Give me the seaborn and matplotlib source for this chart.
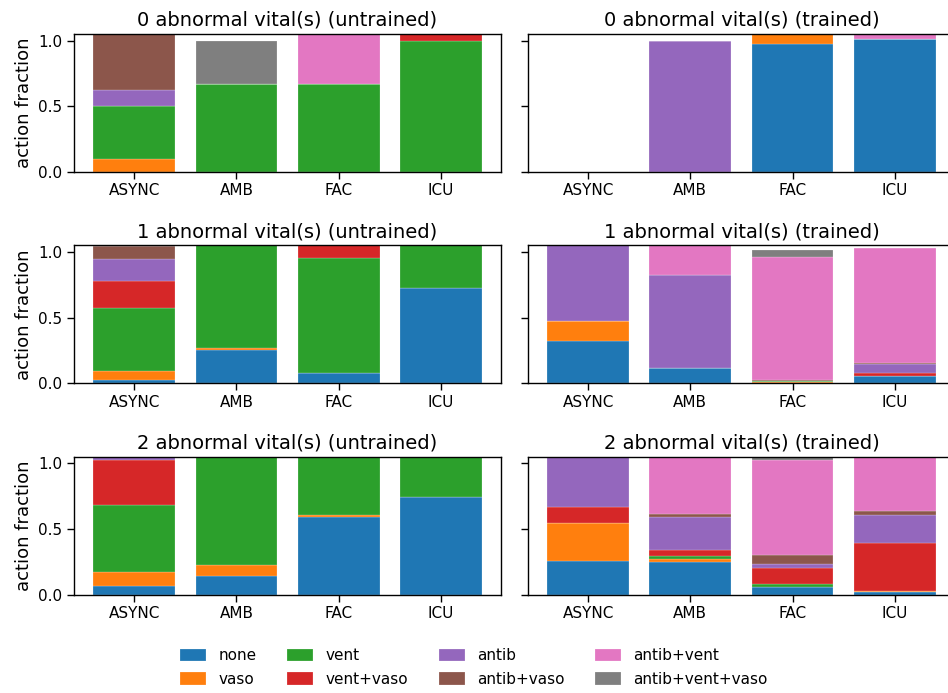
import pandas as pd
import seaborn as sns
import matplotlib.pyplot as plt
from matplotlib.patches import Patch

settings = ['ASYNC', 'AMB', 'FAC', 'ICU']
actions = ['none', 'vaso', 'vent', 'vent+vaso', 'antib', 'antib+vaso', 'antib+vent', 'antib+vent+vaso']

# rows = actions, columns = settings (ASYNC, AMB, FAC, ICU)
untrained_0 = [
    [0.0, 0.0, 0.0, 0.0],
    [0.10, 0.0, 0.0, 0.0],
    [0.40, 0.667, 0.667, 1.0],
    [0.0, 0.0, 0.0, 0.06],
    [0.12, 0.0, 0.0, 0.0],
    [0.45, 0.0, 0.0, 0.0],
    [0.0, 0.0, 0.40, 0.0],
    [0.0, 0.333, 0.0, 0.0],
]
trained_0 = [
    [0.0, 0.0, 0.972, 1.008],
    [0.0, 0.0, 0.10, 0.0],
    [0.0, 0.0, 0.0, 0.0],
    [0.0, 0.0, 0.0, 0.0],
    [0.0, 1.0, 0.0, 0.0],
    [0.0, 0.0, 0.0, 0.0],
    [0.0, 0.0, 0.0, 0.06],
    [0.0, 0.0, 0.0, 0.0],
]
untrained_1 = [
    [0.023, 0.254, 0.079, 0.723],
    [0.073, 0.013, 0.0, 0.0],
    [0.478, 0.80, 0.878, 0.35],
    [0.205, 0.0, 0.10, 0.0],
    [0.168, 0.0, 0.0, 0.0],
    [0.10, 0.0, 0.0, 0.0],
    [0.0, 0.0, 0.0, 0.0],
    [0.0, 0.0, 0.0, 0.0],
]
trained_1 = [
    [0.322, 0.114, 0.003, 0.058],
    [0.15, 0.0, 0.005, 0.0],
    [0.0, 0.0, 0.008, 0.0],
    [0.0, 0.0, 0.0, 0.018],
    [0.60, 0.708, 0.0, 0.07],
    [0.0, 0.0, 0.005, 0.008],
    [0.0, 0.25, 0.943, 0.876],
    [0.0, 0.0, 0.054, 0.0],
]
untrained_2 = [
    [0.069, 0.143, 0.592, 0.747],
    [0.104, 0.084, 0.015, 0.0],
    [0.513, 0.85, 0.45, 0.35],
    [0.34, 0.0, 0.0, 0.0],
    [0.04, 0.0, 0.0, 0.0],
    [0.0, 0.0, 0.0, 0.0],
    [0.0, 0.0, 0.0, 0.0],
    [0.0, 0.0, 0.0, 0.0],
]
trained_2 = [
    [0.258, 0.247, 0.056, 0.02],
    [0.29, 0.023, 0.0, 0.01],
    [0.0, 0.026, 0.023, 0.0],
    [0.123, 0.046, 0.122, 0.367],
    [0.45, 0.247, 0.033, 0.213],
    [0.0, 0.028, 0.069, 0.03],
    [0.0, 0.50, 0.723, 0.45],
    [0.0, 0.0, 0.05, 0.0],
]

panels = [
    (untrained_0, '0 abnormal vital(s) (untrained)'),
    (trained_0, '0 abnormal vital(s) (trained)'),
    (untrained_1, '1 abnormal vital(s) (untrained)'),
    (trained_1, '1 abnormal vital(s) (trained)'),
    (untrained_2, '2 abnormal vital(s) (untrained)'),
    (trained_2, '2 abnormal vital(s) (trained)'),
]

sns.set_style('ticks')
sns.set_context('paper')
plt.rcParams['font.family'] = ['DejaVu Sans']
plt.rcParams['xtick.labelsize'] = 11
plt.rcParams['ytick.labelsize'] = 11
for k in ['text.color', 'axes.labelcolor', 'xtick.color', 'ytick.color', 'axes.edgecolor']:
    plt.rcParams[k] = 'black'

colors = sns.color_palette('tab10')[:8]
palette = dict(zip(actions, colors))

fig, axes = plt.subplots(3, 2, figsize=(9.48, 6.93), dpi=100, sharey=True)
fig.subplots_adjust(left=0.078, right=1.0074, top=0.951, bottom=0.142, wspace=0.0625, hspace=0.536)

for ax, (vals, title) in zip(axes.flat, panels):
    rows = []
    for a, row in zip(actions, vals):
        for s, v in zip(settings, row):
            rows.append({'setting': s, 'action': a, 'fraction': v})
    df = pd.DataFrame(rows)
    # histplot stacks the last hue level at the bottom
    sns.histplot(data=df, x='setting', hue='action', weights='fraction',
                 hue_order=actions[::-1], palette=palette, multiple='stack',
                 discrete=True, shrink=0.8, alpha=1, edgecolor=(1, 1, 1, 0.5),
                 linewidth=0.3, legend=False, ax=ax)
    ax.set_title(title, fontsize=14)
    ax.set_xlabel('')
    ax.set_ylabel('action fraction', fontsize=13)
    ax.set_xlim(-0.59, 3.59)
    ax.set_ylim(0, 1.05)
    ax.set_yticks([0.0, 0.5, 1.0])

for ax in axes[:, 1]:
    ax.set_ylabel('')

handles = [Patch(facecolor=c, edgecolor=(1, 1, 1, 0.5), linewidth=0.3) for c in colors]
fig.legend(handles, actions, loc='center', bbox_to_anchor=(0.5, 0.037), ncol=4,
           frameon=False, fontsize=11, handlelength=1.7, handleheight=0.9,
           labelspacing=0.55)

fig.savefig('out.png', dpi=100)
